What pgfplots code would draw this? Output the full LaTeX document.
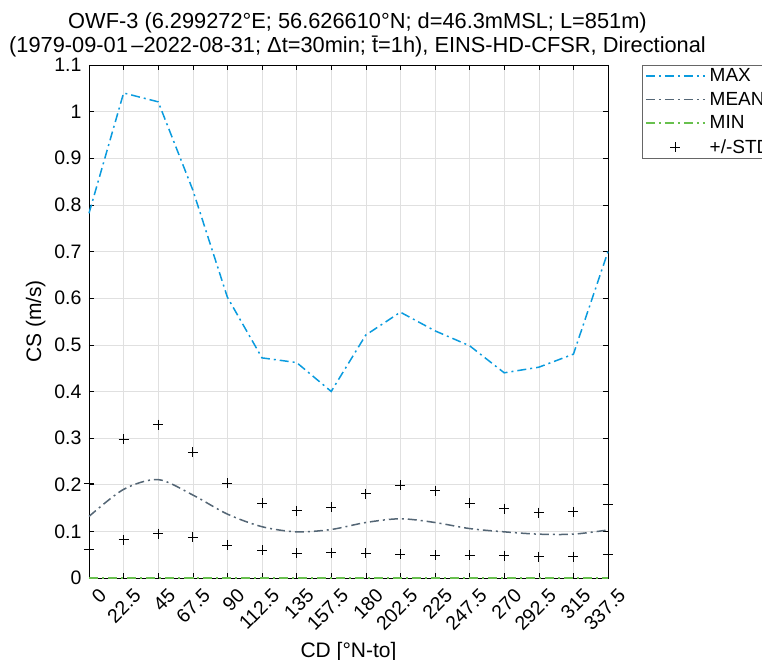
\documentclass[border=0pt]{standalone}
\usepackage{fontspec}
\setmainfont{Liberation Sans}
\usepackage{pgfplots}
\pgfplotsset{compat=1.18}

\definecolor{cmax}{RGB}{10,155,222}
\definecolor{cmean}{RGB}{84,102,117}
\definecolor{cmin}{RGB}{104,192,78}

% CD [deg], MAX, MEAN, MIN, MEAN+STD, MEAN-STD
\pgfplotstableread{
cd    mx    mn     mi  up     lo
0     0.782 0.132  0   0.204  0.061
22.5  1.040 0.190  0   0.297  0.082
45    1.021 0.211  0   0.329  0.095
67.5  0.832 0.178  0   0.270  0.088
90    0.602 0.137  0   0.203  0.071
112.5 0.472 0.110  0   0.160  0.059
135   0.462 0.099  0   0.144  0.053
157.5 0.400 0.104  0   0.152  0.054
180   0.521 0.119  0   0.181  0.053
202.5 0.570 0.127  0   0.199  0.051
225   0.530 0.119  0   0.187  0.049
247.5 0.498 0.106  0   0.161  0.049
270   0.440 0.099  0   0.149  0.048
292.5 0.452 0.094  0   0.140  0.046
315   0.480 0.094  0   0.142  0.046
337.5 0.700 0.103  0   0.157  0.050
}\data

\tikzset{dashdot/.style={dash pattern=on 9pt off 4pt on 2pt off 4pt}}

\begin{document}
\begin{tikzpicture}[x=1pt,y=1pt]
\useasboundingbox (0,0) rectangle (762,659);
\begin{axis}[
    at={(89pt,81pt)}, anchor=south west,
    scale only axis, width=519pt, height=513pt,
    xmin=0, xmax=337.5, ymin=0, ymax=1.1,
    xtick={0,22.5,...,337.5},
    xticklabels={0,22.5,45,67.5,90,112.5,135,157.5,180,202.5,225,247.5,270,292.5,315,337.5},
    ytick={0,0.1,...,1.1},
    yticklabels={0,0.1,0.2,0.3,0.4,0.5,0.6,0.7,0.8,0.9,1,1.1},
    tick align=inside, tick pos=both, major tick length=5pt,
    every tick/.style={black, line width=0.6pt},
    axis line style={line width=0.7pt},
    grid=major, grid style={black!12, line width=0.6pt},
    tick label style={font=\fontsize{19.5}{21}\selectfont},
    xticklabel style={rotate=45, anchor=east, xshift=3pt, yshift=-20pt},
    yticklabel style={xshift=-4pt},
    xlabel={CD [°N-to]},
    ylabel={CS (m/s)},
    label style={font=\fontsize{21}{23}\selectfont},
    xlabel style={yshift=-2pt},
    ylabel style={yshift=2pt},
    title={OWF-3 (6.299272°E; 56.626610°N; d=46.3mMSL; L=851m)\\(1979-09-01\,–2022-08-31; Δt=30min; \={t}=1h), EINS-HD-CFSR, Directional},
    title style={font=\fontsize{21.8}{24.5}\selectfont, align=center, xshift=9pt, yshift=-2pt},
    clip=false,
    legend style={at={(1,1)}, anchor=north west, xshift=34pt,
        draw=black!60, font=\fontsize{19}{21}\selectfont,
        row sep=5pt, inner xsep=3pt, inner ysep=1.5pt,
        nodes={inner xsep=4pt}},
    legend cell align=left,
    legend image code/.code={\draw[mark repeat=2, mark phase=2, #1]
        plot coordinates {(0pt,0pt) (29.5pt,0pt) (59pt,0pt)};},
]
\addplot[cmax, line width=1.5pt, dashdot] table[x=cd, y=mx] {\data};
\addlegendentry{MAX}
\addplot[cmean, line width=1.5pt, dashdot, smooth, tension=0.5] table[x=cd, y=mn] {\data};
\addlegendentry{MEAN}
\addplot[cmin, line width=1.5pt, dashdot] table[x=cd, y=mi] {\data};
\addlegendentry{MIN}
\addplot[only marks, mark=+, mark size=5pt, black, line width=0.7pt] table[x=cd, y=up] {\data};
\addlegendentry{+/-STD}
\addplot[only marks, mark=+, mark size=5pt, black, line width=0.7pt, forget plot] table[x=cd, y=lo] {\data};
\end{axis}
\end{tikzpicture}
\end{document}
